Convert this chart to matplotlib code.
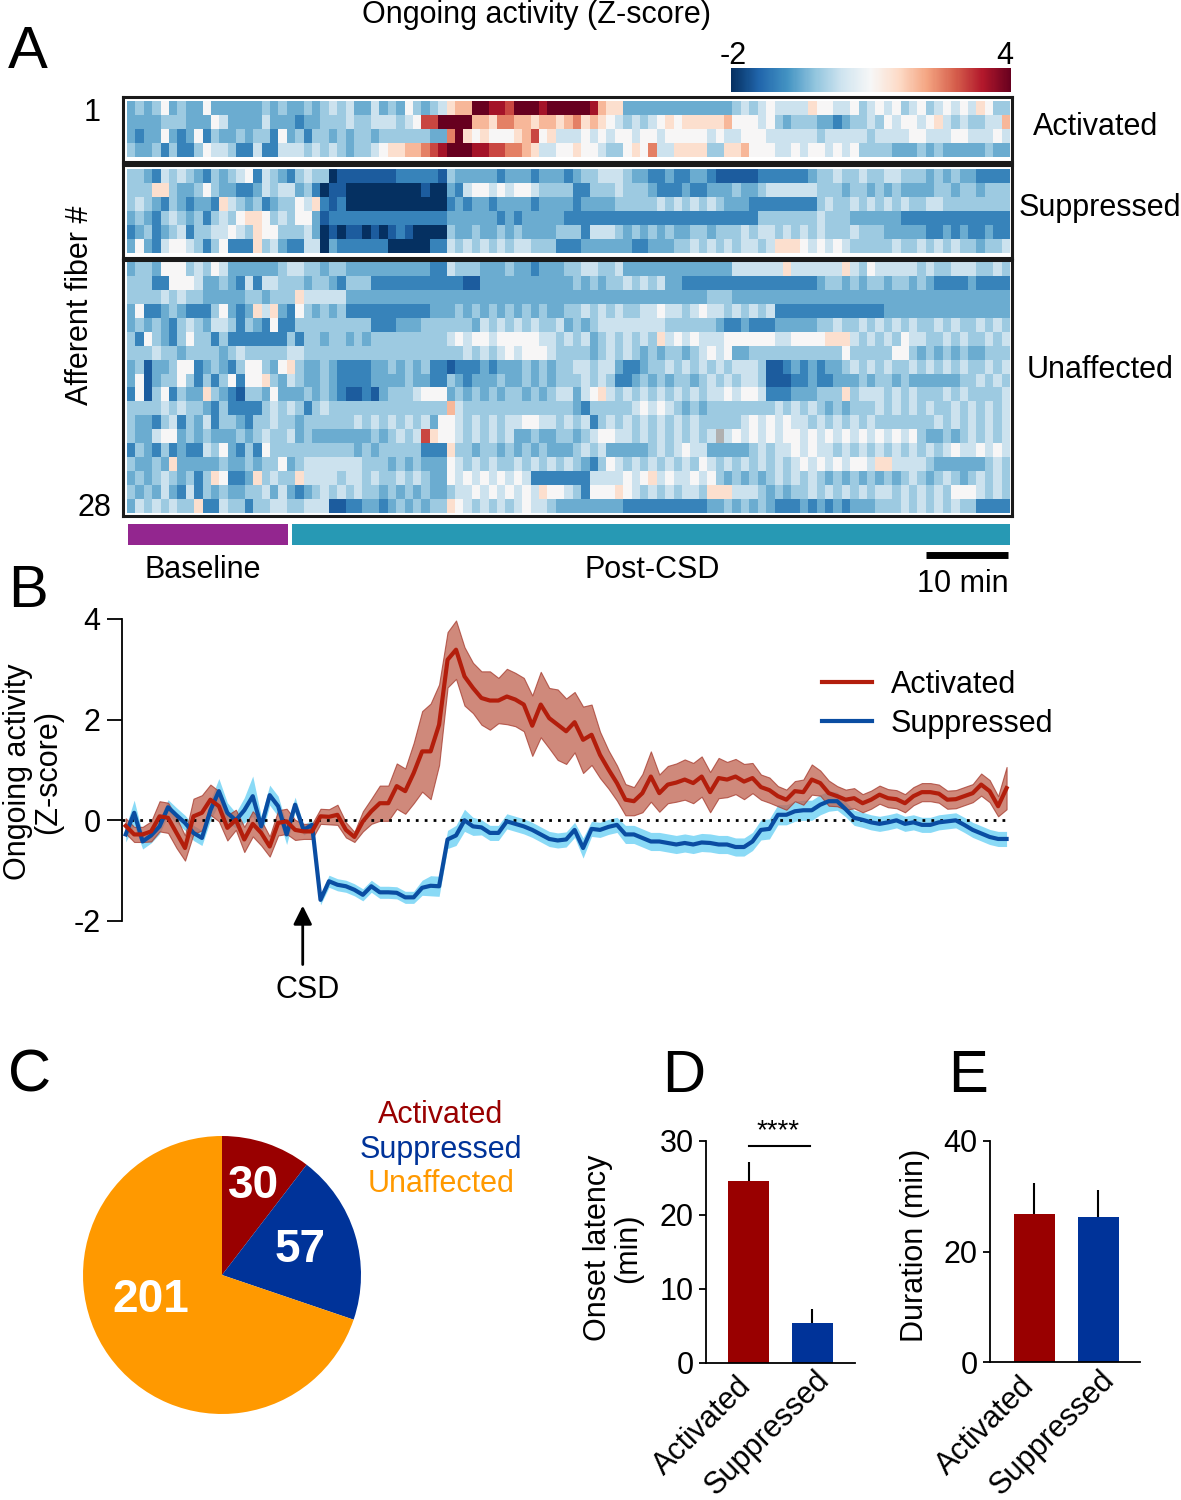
import numpy as np
import matplotlib
matplotlib.use('Agg')
import matplotlib.pyplot as plt
from matplotlib.patches import Rectangle

plt.rcParams['font.family'] = ['Liberation Sans', 'DejaVu Sans']

# ---------------- DATA ----------------
# Heatmap cells coded per minute: level char -> z-score
LEVELS = {'0': -2.0, '1': -1.5, '2': -1.0, '3': -0.5, '4': -0.1, '5': 0.35,
          '6': 1.0, '7': 1.5, '8': 2.0, '9': 2.5, 'a': 3.0, 'b': 3.5, 'c': 4.0,
          'n': np.nan}

activated_rows = [
    "3434634336 3333334343 3434545335 3436434578 8ccbbacccb cccccb8773 3333333333 3345456555 5766556456 5645645656 57644",
    "3333444333 6533335333 2334445445 55456aaccc c887998878 8789787654 5456767777 7866656434 4433234454 6566567545 44558",
    "3233632362 4334344263 4244343443 444444339c 76766678a6 7555656566 5665666665 6556665555 5545555545 5556655566 55565",
    "4334242246 5542252255 5454543445 677889abcc cbbaa99875 5667665446 7695577774 4778666556 5665656444 4333434333 33433",
]
suppressed_rows = [
    "4432545432 4345625432 4544011111 1122222143 3333233323 3323445554 3322322332 1111122222 2344544544 5544434343 32222",
    "4447743346 4332235455 3420110000 0000010032 5665656654 4442244454 4432223223 3343345555 5544434434 3433334434 43444",
    "4543243233 2754342344 6572120000 0000000023 2332333323 3332333344 4445454545 4333222222 2245445454 5454455444 44444",
    "3432454342 4546776454 6631222222 2222222233 3333232333 3322222222 2222222222 2222244444 4454443333 3322222222 22222",
    "2342345244 5565476644 4530101101 0121000043 3433434333 3444255543 4343433443 4445455454 5454445444 3333322323 22322",
    "3632566542 4622274532 2550322222 2000002254 5454545544 4222333333 2233344545 4545545777 6565654444 4544545454 43445",
]
unaffected_rows = [
    "3443666454 6533333345 5443443333 3333332254 4433343323 3344554453 3333333333 3355555575 5555575465 5555454455 54454",
    "4442266653 3432525544 4344324442 2222222222 1133333333 3334343445 4545332222 2222222222 2234434344 3443432222 32222",
    "4444545443 3333443444 7555553333 3333333333 3333333333 3333333333 3333333334 4433333333 3333333333 3333333333 33333",
    "3622343222 4632375732 6434342222 2222223334 3434343434 3344545454 4556554565 5454545222 2222222222 3333333333 33333",
    "3434324543 5542432622 4444444442 2233344444 4354545454 4534345555 5555444444 3223222333 3344544545 4545445454 45454",
    "4264324644 2422222224 2443443434 4444444456 5665666665 5454534545 4547565655 5666666556 6667775454 5465544545 44545",
    "4445443444 4345444445 5444444444 4444444444 5454565666 5444434545 4343443456 5633444444 4444464444 4664343434 33444",
    "3413346623 4324664367 4334322223 3434342212 2232333434 3445545532 2344545454 5455541123 2323345454 5445454545 44545",
    "3613446424 2462667435 4334322223 3334332243 2333433434 3444545422 3434344345 4545541112 2322333434 4343333334 45454",
    "2614624337 4321443633 3434321121 3444566634 3434344343 4553567545 4545454545 5656652223 3344474555 4545444545 44445",
    "4444545443 2422224545 4245444444 4444444485 4444444444 4443244444 5656543434 4444444545 4543434445 4545454454 54545",
    "4332452435 2443244544 3444444545 4545453665 4545455665 5454524545 4545454544 4445656565 5454545454 4444445454 54545",
    "4335663434 3334345445 3433333334 34545a7665 4545453343 3443456655 4545454545 n565656566 5656565656 5656433434 54545",
    "2432423225 4632426444 4444444343 4444422274 4344343434 3334545333 3345456553 3333454556 5655454545 4545454565 56565",
    "4334373333 3433434463 4555555544 4343433365 4545445454 5454324654 5454545465 4545454545 6565656657 7555543333 33454",
    "3434543424 7622374544 7555545545 4454543365 6565656522 2222255556 5675655656 4343434545 4543434343 4345434543 45454",
    "4343532524 3433445353 2345454544 3434343345 5656565657 6654266676 5454545547 7755543434 4545454545 5454545466 65454",
    "3545454472 2544244554 4555112233 2343434476 5454545655 4333333332 2222222223 3434343222 3232323334 4454545454 42222",
]
group_names = ["Activated", "Suppressed", "Unaffected"]
baseline_min = 19
total_min = 105

# Panel B: mean +/- SEM time courses (1-min bins)
red_mean = [-0.11, -0.28, -0.28, -0.22, 0.08, 0.05, -0.25, -0.55, 0.08, 0.15,
            0.41, 0.28, -0.15, 0.01, -0.38, -0.07, -0.25, -0.52, -0.05, -0.02,
            -0.19, -0.22, -0.22, 0.08, 0.07, 0.11, -0.19, -0.33, -0.02, 0.18,
            0.34, 0.34, 0.68, 0.58, 0.94, 1.37, 1.37, 1.90, 3.19, 3.39,
            2.86, 2.63, 2.43, 2.38, 2.38, 2.46, 2.40, 2.30, 1.88, 2.30,
            2.03, 1.90, 1.77, 1.95, 1.60, 1.70, 1.30, 1.01, 0.74, 0.41,
            0.38, 0.54, 0.87, 0.54, 0.71, 0.75, 0.81, 0.74, 0.87, 0.56,
            0.84, 0.81, 0.87, 0.77, 0.84, 0.66, 0.60, 0.48, 0.41, 0.58,
            0.56, 0.81, 0.74, 0.54, 0.48, 0.41, 0.44, 0.34, 0.41, 0.51,
            0.44, 0.42, 0.34, 0.48, 0.56, 0.56, 0.53, 0.41, 0.42, 0.48,
            0.54, 0.71, 0.58, 0.28, 0.64]
red_sem = [0.15, 0.15, 0.15, 0.2, 0.3, 0.3, 0.3, 0.25, 0.35, 0.35,
           0.3, 0.3, 0.25, 0.2, 0.25, 0.25, 0.25, 0.2, 0.25, 0.25,
           0.2, 0.15, 0.15, 0.15, 0.15, 0.2, 0.15, 0.1, 0.2, 0.25,
           0.35, 0.35, 0.45, 0.45, 0.6, 0.8, 0.95, 0.8, 0.55, 0.58,
           0.58, 0.5, 0.53, 0.58, 0.45, 0.55, 0.53, 0.53, 0.6, 0.65,
           0.6, 0.7, 0.65, 0.6, 0.66, 0.6, 0.46, 0.38, 0.35, 0.31,
           0.28, 0.38, 0.5, 0.37, 0.37, 0.38, 0.4, 0.4, 0.4, 0.4,
           0.4, 0.35, 0.35, 0.35, 0.3, 0.25, 0.25, 0.2, 0.2, 0.2,
           0.25, 0.3, 0.25, 0.25, 0.2, 0.2, 0.2, 0.18, 0.18, 0.18,
           0.18, 0.18, 0.18, 0.18, 0.18, 0.18, 0.18, 0.18, 0.18, 0.18,
           0.18, 0.22, 0.22, 0.2, 0.42]
blue_mean = [-0.28, 0.15, -0.42, -0.30, -0.12, 0.26, 0.10, -0.05, -0.25, -0.35,
             0.20, 0.58, 0.15, 0.0, 0.20, 0.48, -0.12, 0.50, 0.28, -0.28,
             0.31, -0.19, -0.09, -1.58, -1.21, -1.28, -1.31, -1.38, -1.48, -1.31,
             -1.43, -1.43, -1.44, -1.53, -1.53, -1.34, -1.30, -1.31, -0.38, -0.30,
             0.0, -0.12, -0.14, -0.25, -0.25, -0.02, -0.07, -0.12, -0.19, -0.28,
             -0.37, -0.40, -0.38, -0.19, -0.55, -0.17, -0.19, -0.13, -0.09, -0.28,
             -0.28, -0.35, -0.42, -0.42, -0.45, -0.48, -0.45, -0.48, -0.44, -0.45,
             -0.48, -0.48, -0.53, -0.53, -0.42, -0.19, -0.17, 0.11, 0.11, 0.18,
             0.20, 0.20, 0.31, 0.38, 0.38, 0.22, 0.05, 0.01, -0.04, -0.07,
             -0.04, 0.0, -0.07, -0.04, -0.09, -0.09, -0.04, -0.02, 0.0, -0.09,
             -0.19, -0.26, -0.33, -0.37, -0.37]
blue_sem = [0.15, 0.25, 0.15, 0.15, 0.15, 0.15, 0.15, 0.15, 0.15, 0.15,
            0.2, 0.25, 0.2, 0.15, 0.25, 0.4, 0.2, 0.2, 0.2, 0.2,
            0.15, 0.1, 0.1, 0.1, 0.12, 0.12, 0.12, 0.12, 0.12, 0.12,
            0.12, 0.12, 0.12, 0.12, 0.12, 0.15, 0.2, 0.2, 0.18, 0.2,
            0.22, 0.18, 0.15, 0.15, 0.15, 0.15, 0.15, 0.15, 0.15, 0.15,
            0.15, 0.15, 0.15, 0.15, 0.2, 0.15, 0.15, 0.15, 0.15, 0.18,
            0.18, 0.18, 0.18, 0.18, 0.18, 0.18, 0.18, 0.18, 0.18, 0.18,
            0.18, 0.18, 0.18, 0.18, 0.18, 0.2, 0.2, 0.2, 0.2, 0.2,
            0.2, 0.2, 0.2, 0.2, 0.18, 0.15, 0.15, 0.15, 0.15, 0.15,
            0.15, 0.15, 0.15, 0.15, 0.15, 0.15, 0.15, 0.15, 0.15, 0.15,
            0.15, 0.15, 0.15, 0.15, 0.15]
csd_index = 20.9

# Panel C
pie_labels = ["Activated", "Suppressed", "Unaffected"]
pie_counts = [30, 57, 201]

# Panel D / E
bar_labels = ["Activated", "Suppressed"]
latency_mean = [24.6, 5.4]
latency_err = [2.6, 1.9]
duration_mean = [26.8, 26.2]
duration_err = [5.6, 5.0]

RED = '#990000'
BLUE = '#003399'
ORANGE = '#ff9900'

# ---------------- FIGURE ----------------
W, H = 1181, 1500
fig = plt.figure(figsize=(W / 100, H / 100), dpi=100)
FS = 22


def rect(x0, y0, x1, y1):
    return [x0 / W, 1 - y1 / H, (x1 - x0) / W, (y1 - y0) / H]


def ftext(x, y, s, **kw):
    kw.setdefault('fontsize', FS)
    return fig.text(x / W, 1 - y / H, s, **kw)


def decode(rows):
    out = []
    for r in rows:
        s = r.replace(' ', '')
        if len(s) != total_min:
            raise ValueError(f"row length {len(s)}: {r}")
        out.append([LEVELS[c] for c in s])
    return np.array(out, dtype=float)


cmap = plt.get_cmap('RdBu_r').copy()
cmap.set_bad('#b0b0b0')
norm = matplotlib.colors.Normalize(vmin=-2, vmax=4)

# ---- Panel A ----
cell_w = 8.4
row_h = 13.9
x_frame0, x_frame1 = 123, 1012
x_cont0 = 127.3
xl_heat = (-0.5 - (x_cont0 - x_frame0) / cell_w,
           total_min - 0.5 + (x_frame1 - (x_cont0 + total_min * cell_w)) / cell_w)
frames = [(97, 162), (165, 258), (260, 516)]
label_pos = [(1033, 127), (1019, 208), (1027, 370)]
im = None
for rows, (y0, y1), name, (lx, ly) in zip([activated_rows, suppressed_rows, unaffected_rows],
                                           frames, group_names, label_pos):
    data = np.ma.masked_invalid(decode(rows))
    n = data.shape[0]
    ax = fig.add_axes(rect(x_frame0, y0, x_frame1, y1))
    im = ax.imshow(data, cmap=cmap, norm=norm, aspect='auto', interpolation='nearest')
    m = ((y1 - y0) - n * row_h) / 2 / row_h
    ax.set_ylim(n - 0.5 + m, -0.5 - m)
    ax.set_xlim(*xl_heat)
    ax.set_xticks([])
    ax.set_yticks([])
    for sp in ax.spines.values():
        sp.set_linewidth(2.2)
        sp.set_color('#1a1a1a')
    ftext(lx, ly, name, ha='left', va='center')

ftext(101, 113, '1', ha='right', va='center')
ftext(111, 508, '28', ha='right', va='center')
ftext(80, 305, 'Afferent fiber #', rotation=90, ha='center', va='center')
ftext(537, 15, 'Ongoing activity (Z-score)', ha='center', va='center')

cax = fig.add_axes(rect(731, 68, 1011, 92))
cb = fig.colorbar(im, cax=cax, orientation='horizontal')
cb.set_ticks([])
cb.outline.set_visible(False)
ftext(733, 56, '-2', ha='center', va='center')
ftext(1005, 56, '4', ha='center', va='center')

# timeline bars
tax = fig.add_axes(rect(x_frame0, 520, x_frame1, 562))
tax.set_xlim(*xl_heat)
tax.set_ylim(42, 0)
tax.axis('off')
tax.add_patch(Rectangle((-0.42, 4), baseline_min + 0.06, 21, color='#93268f', lw=0))
tax.add_patch(Rectangle((baseline_min + 0.1, 4), total_min - baseline_min - 0.55, 21,
                        color='#2799b4', lw=0))
tax.plot([total_min - 10 - 0.4, total_min - 0.6], [35, 35], color='k', lw=5, solid_capstyle='butt')
ftext(203, 570, 'Baseline', ha='center', va='center')
ftext(652, 570, 'Post-CSD', ha='center', va='center')
ftext(963, 584, '10 min', ha='center', va='center')

# ---- Panel B ----
x0_pix, dx = 125.7, 8.47
axb = fig.add_axes(rect(122, 619, 1012, 921))
t = np.arange(len(red_mean))
rm, rs = np.array(red_mean), np.array(red_sem)
bm, bs = np.array(blue_mean), np.array(blue_sem)
axb.fill_between(t, bm - bs, bm + bs, color='#7dd6f6', lw=0, alpha=0.9, zorder=1)
axb.fill_between(t, rm - rs, rm + rs, facecolor='#c0614f', edgecolor='#a5392c', lw=0.8,
                 alpha=0.75, zorder=2)
axb.axhline(0, xmin=0, xmax=(1010 - 122) / 890, color='k', lw=2, ls=(0, (1, 2.2)), zorder=3)
lb, = axb.plot(t, bm, color='#0a4da2', lw=3, zorder=4, label='Suppressed')
lr, = axb.plot(t, rm, color='#b31e0c', lw=3, zorder=5, label='Activated')
axb.set_xlim((122 - x0_pix) / dx, (1012 - x0_pix) / dx)
axb.set_ylim(-2, 4)
axb.set_yticks([-2, 0, 2, 4])
axb.set_yticklabels(['-2', '0', '2', '4'])
axb.set_xticks([])
for s in ['top', 'right', 'bottom']:
    axb.spines[s].set_visible(False)
axb.spines['left'].set_linewidth(1.3)
axb.tick_params(axis='y', length=10.5, width=1.3, pad=5, labelsize=FS)
axb.annotate('', xy=(csd_index, -1.64), xytext=(csd_index, -2.92),
             arrowprops=dict(arrowstyle='-|>', color='k', lw=2, mutation_scale=28),
             annotation_clip=False)
ftext(308, 990, 'CSD', ha='center', va='center')
ftext(33, 772, 'Ongoing activity\n(Z-score)', rotation=90, ha='center', va='center',
      linespacing=1.0)
leg = axb.legend(handles=[lr, lb], loc='upper left', frameon=False,
                 bbox_to_anchor=(822 / W, 1 - 670 / H), bbox_transform=fig.transFigure,
                 borderpad=0, borderaxespad=0, handlelength=1.64, handletextpad=0.6,
                 labelspacing=0.28, fontsize=FS)

# ---- Panel C ----
axc = fig.add_axes(rect(83, 1136, 361, 1414))
axc.pie(pie_counts, colors=[RED, BLUE, ORANGE], startangle=90, counterclock=False,
        radius=1, wedgeprops=dict(lw=0))
axc.set_xlim(-1, 1)
axc.set_ylim(-1, 1)
axc.set_aspect('equal')
label_xy = [(0.225, 0.64), (0.56, 0.18), (-0.51, -0.18)]
for (lx, ly), c in zip(label_xy, pie_counts):
    axc.text(lx, ly, str(c), color='white', fontsize=33, fontweight='bold',
             ha='center', va='center')
for (name, col, yy) in zip(pie_labels, [RED, BLUE, ORANGE], [1115, 1150, 1184]):
    ftext(441, yy, name, color=col, ha='center', va='center')


# ---- Panel D & E ----
def bar_panel(r, means, errs, ymax, step, xl, label_centers):
    ax = fig.add_axes(rect(*r))
    x = np.arange(len(means))
    ax.bar(x, means, width=0.646, color=[RED, BLUE], zorder=2)
    ax.errorbar(x, means, yerr=[np.zeros(len(errs)), errs], fmt='none', ecolor='k',
                elinewidth=1.5, capsize=0, zorder=1)
    ax.set_xlim(*xl)
    ax.set_ylim(0, ymax)
    ax.set_yticks(np.arange(0, ymax + 1, step))
    ax.set_xticks([])
    for s in ['top', 'right']:
        ax.spines[s].set_visible(False)
    for s in ['left', 'bottom']:
        ax.spines[s].set_linewidth(1.3)
    ax.tick_params(axis='y', length=5, width=1.3, pad=4, labelsize=FS)
    for name, (cx, cy) in zip(bar_labels, label_centers):
        ftext(cx, cy, name, rotation=45, ha='center', va='center', rotation_mode='anchor')
    return ax


axd = bar_panel((706, 1141, 855, 1363), latency_mean, latency_err, 30, 10, (-0.677, 1.67),
                [(703, 1426), (767, 1433)])
axd.plot([0.0, 0.96], [29.3, 29.3], color='k', lw=1.5, clip_on=False)
axd.text(0.46, 29.5, '****', ha='center', va='bottom', fontsize=20)
ftext(613, 1248, 'Onset latency\n(min)', rotation=90, ha='center', va='center', linespacing=1.0)

axe = bar_panel((990, 1141, 1140, 1362), duration_mean, duration_err, 40, 20, (-0.70, 1.66),
                [(986, 1426), (1052, 1433)])
ftext(915, 1245, 'Duration (min)', rotation=90, ha='center', va='center')

# panel letters
for letter, x, y in [('A', 8, 68), ('B', 8, 607), ('C', 8, 1092), ('D', 662, 1092), ('E', 948, 1092)]:
    ftext(x, y, letter, fontsize=43, ha='left', va='baseline')

fig.savefig('out.png', dpi=100)
